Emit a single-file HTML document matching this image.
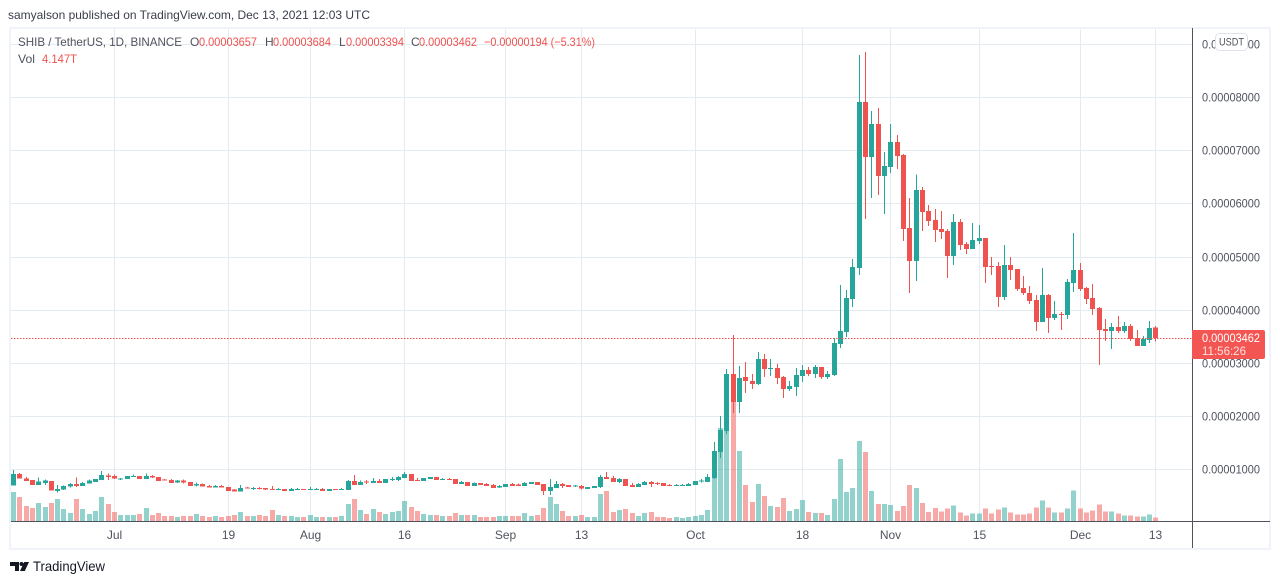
<!DOCTYPE html>
<html lang="en">
<head>
<meta charset="utf-8">
<title>SHIB / TetherUS chart</title>
<style>
html,body{margin:0;padding:0;background:#fff;width:1280px;height:584px;overflow:hidden}
svg{display:block}
text{font-family:"Liberation Sans",sans-serif}
</style>
</head>
<body>
<svg id="chart" xmlns="http://www.w3.org/2000/svg" width="1280" height="584" viewBox="0 0 1280 584">
  <rect x="0" y="0" width="1280" height="584" fill="#ffffff"/>
  <text x="8" y="19" font-size="12" fill="#3a3e4a" textLength="362" lengthAdjust="spacingAndGlyphs">samyalson published on TradingView.com, Dec 13, 2021 12:03 UTC</text>
  <rect x="10" y="28" width="1260" height="521" fill="#ffffff" stroke="#f0f3fa" stroke-width="2"/>
  <g id="grid"></g>
  <g id="volumes"></g>
  <g id="candles"></g>
  <g id="priceline"></g>
  <line x1="1192.5" y1="28" x2="1192.5" y2="548" stroke="#50535e" stroke-width="1"/>
  <line x1="11" y1="521.5" x2="1270" y2="521.5" stroke="#50535e" stroke-width="1"/>
  <g id="yticks"></g>
  <g id="xticks"></g>

  <g>
    <rect x="1215.5" y="33.5" width="32" height="17" rx="4" fill="#ffffff" stroke="#e0e3eb"/>
    <text x="1231.5" y="45.5" font-size="11" fill="#50535e" text-anchor="middle" textLength="25" lengthAdjust="spacingAndGlyphs">USDT</text>
  </g>

  <g>
    <path d="M1192 330H1263a2 2 0 0 1 2 2V357a2 2 0 0 1 -2 2H1192Z" fill="#f35652"/>
    <text x="1202" y="342" font-size="12" fill="#ffffff" textLength="58" lengthAdjust="spacingAndGlyphs">0.00003462</text>
    <text x="1202" y="355" font-size="12" fill="#fde0df" textLength="44" lengthAdjust="spacingAndGlyphs">11:56:26</text>
  </g>

  <g font-size="12">
    <text x="18" y="46" fill="#50535e" textLength="164" lengthAdjust="spacingAndGlyphs">SHIB / TetherUS, 1D, BINANCE</text>
    <text x="190" y="46" fill="#50535e">O</text>
    <text x="199" y="46" fill="#ef5350" textLength="58" lengthAdjust="spacingAndGlyphs">0.00003657</text>
    <text x="265" y="46" fill="#50535e">H</text>
    <text x="273" y="46" fill="#ef5350" textLength="58" lengthAdjust="spacingAndGlyphs">0.00003684</text>
    <text x="339" y="46" fill="#50535e">L</text>
    <text x="346" y="46" fill="#ef5350" textLength="58" lengthAdjust="spacingAndGlyphs">0.00003394</text>
    <text x="411" y="46" fill="#50535e">C</text>
    <text x="419" y="46" fill="#ef5350" textLength="58" lengthAdjust="spacingAndGlyphs">0.00003462</text>
    <text x="484" y="46" fill="#ef5350" textLength="111" lengthAdjust="spacingAndGlyphs">−0.00000194 (−5.31%)</text>
    <text x="18" y="63" fill="#50535e" textLength="17" lengthAdjust="spacingAndGlyphs">Vol</text>
    <text x="42" y="63" fill="#ef5350" textLength="35" lengthAdjust="spacingAndGlyphs">4.147T</text>
  </g>

  <g>
    <path d="M10 562H19V571H15V566H10ZM20 571L24.2 562H29L24.8 571Z" fill="#131722"/>
    <circle cx="21.5" cy="564" r="2" fill="#131722"/>
    <text x="33" y="571" font-size="14" fill="#131722" textLength="72" lengthAdjust="spacingAndGlyphs">TradingView</text>
  </g>
</svg>

<script>
// All prices in units of 0.00000001 USDT; volumes in trillions.
const firstDay = '2021-06-15';
const opens = [
684,904,822,791,697,734,772,584,609,665,
716,678,722,753,791,879,866,810,810,853,
866,810,866,847,797,791,741,778,753,684,
716,678,647,678,659,609,571,647,628,640,
640,622,609,622,584,609,622,603,603,622,
584,622,609,603,772,697,766,734,772,734,
791,791,828,904,791,772,810,847,791,810,
810,716,753,678,734,716,697,647,659,716,
703,678,716,753,716,584,640,716,697,665,
678,622,640,659,847,828,753,810,697,659,
697,753,734,734,697,678,678,678,697,759,
753,827,1316,1711,2783,2256,2726,2651,2595,3065,
2877,2896,2726,2501,2538,2745,2858,2783,2915,2726,
2764,3347,3573,4194,4774,7897,6862,7483,6505,6674,
7144,6900,5527,4906,6241,5846,5677,5510,5473,5002,
5642,5228,5134,5285,5341,4814,4814,4231,4833,4758,
4401,4306,4175,3761,4269,3836,3911,3893,4495,4739,
4401,4212,4024,3629,3592,3667,3592,3686,3460,3310,
3422,3657];
const highs = [
979,923,847,791,841,797,772,697,691,734,
841,753,797,810,960,916,891,828,866,891,
866,916,885,847,810,810,791,797,753,747,
728,697,697,697,659,622,697,659,659,659,
640,678,640,622,640,640,622,659,640,640,
622,622,640,791,885,778,791,828,810,810,
847,866,941,904,828,828,847,847,828,828,
810,772,753,747,734,734,716,697,716,734,
722,753,753,753,716,810,772,734,697,697,
697,659,678,885,941,866,828,810,734,734,
772,772,753,734,716,716,716,734,772,810,
904,1504,1993,2877,3516,2933,3009,2783,3197,3159,
3065,2971,2745,2651,2896,2952,2915,2952,2915,2839,
3460,4457,4363,4946,8781,8837,7727,7784,6956,7483,
7276,6919,6091,6536,6298,5959,5884,5849,5510,5792,
5698,5266,5623,5586,5341,4984,4890,5209,4984,4758,
4626,4438,4269,4777,4288,4156,3949,4570,5435,4871,
4419,4476,4043,3817,3742,3874,3761,3723,3611,3498,
3780,3684];
const lows = [
684,816,772,697,697,697,590,553,603,647,
659,678,722,753,791,791,810,791,810,847,
810,810,828,772,778,734,734,722,678,665,
665,647,647,647,584,571,571,628,603,615,
603,603,603,584,584,603,603,603,603,584,
584,603,603,603,697,697,716,734,734,734,
772,772,828,772,772,772,810,791,791,791,
716,716,678,678,697,678,640,640,659,678,
678,678,716,697,509,509,640,640,659,659,
609,622,640,640,810,753,734,678,659,659,
697,659,697,678,678,678,678,678,697,741,
753,808,1203,1654,2049,2049,2425,2501,2576,2726,
2745,2595,2331,2463,2369,2632,2745,2708,2689,2689,
2745,3272,3479,4044,4643,5696,6091,6147,5790,6561,
6636,5282,4304,4530,5470,5564,5263,5322,4589,4833,
5115,5040,5134,5228,4495,4645,4043,4175,4551,4344,
4269,4100,3592,3761,3554,3799,3611,3817,4325,4344,
4100,3893,2952,3404,3253,3554,3554,3404,3310,3310,
3366,3394];
const closes = [
904,816,772,697,759,778,590,622,678,716,
678,734,778,810,885,847,816,822,866,866,
810,866,835,772,785,734,778,741,678,716,
665,647,678,647,584,571,640,628,640,622,
609,603,622,584,622,622,603,622,622,584,
622,603,622,772,697,753,747,772,734,810,
810,847,904,772,772,828,847,791,810,791,
716,753,678,734,697,678,640,678,716,678,
678,734,753,697,584,659,716,678,659,684,
628,659,678,847,810,753,810,678,659,716,
753,716,716,678,678,697,697,716,772,778,
847,1335,1729,2783,2256,2708,2651,2595,3065,2877,
2896,2708,2501,2557,2764,2858,2783,2915,2726,2783,
3366,3592,4212,4796,7897,6862,7483,6505,6693,7144,
6881,5508,4906,6241,5828,5658,5489,5454,5002,5642,
5209,5134,5303,5341,4796,4796,4231,4833,4739,4382,
4306,4156,3761,4269,3836,3911,3893,4513,4739,4382,
4194,4006,3611,3592,3667,3592,3686,3441,3310,3441,
3648,3462];
const volumes = [
36.3,30,18.8,16.3,22.5,17.5,22.5,27.5,15,10,
27.5,15,8.75,12.5,30,21.3,11.3,7.5,7.5,7.5,
8.75,16.3,7.5,10,6.25,6.25,5,6.25,6.25,8.75,
6.25,5,6.25,5,6.25,7.5,11.3,6.25,6.25,7.5,
6.25,13.75,7.5,6.25,6.25,5,5,7.5,5,5,
5,5,6.25,21.3,27.5,13.75,8.75,15,11.3,8.75,
11.3,12.5,25,17.5,12.5,8.75,7.5,7.5,6.25,6.25,
10,7.5,7.5,7.5,5,5,5,6.25,6.25,6.25,
6.25,10,6.25,7.5,16.3,30,21.3,12.5,6.25,6.25,
7.5,5,5,33.8,37.5,11.3,13.75,15,10,6.25,
10,11.3,5,5,3.75,5,3.75,5,6.25,7.5,
13.75,55,116,120,149,87.5,45,23.8,46.3,31.3,
18.8,17.5,28.8,12.5,15,26.3,11.3,10,10,7.5,
27.5,77.5,36.3,41.3,100,86.3,37.5,21.3,21.3,20,
12.5,18.8,45,41.3,22.5,11.3,16.3,11.7,15.4,19.2,
10.4,6.7,9.2,9.2,15.4,9.2,14.2,16.7,10.4,7.9,
7.9,9.2,16.7,25.4,16.7,10.4,10.4,15.4,37.9,15.4,
10.4,12.9,20.4,11.7,11.7,9.2,6.7,6.7,5.4,5.4,
7.9,4.147];
const priceTicks = [9000,8000,7000,6000,5000,4000,3000,2000,1000];
const priceTickLabels = ['0.00009000','0.00008000','0.00007000','0.00006000','0.00005000','0.00004000','0.00003000','0.00002000','0.00001000'];
const timeTickDates = ['2021-07-01','2021-07-19','2021-08-01','2021-08-16','2021-09-01','2021-09-13','2021-10-01','2021-10-18','2021-11-01','2021-11-15','2021-12-01','2021-12-13'];
const timeTickLabels = ['Jul','19','Aug','16','Sep','13','Oct','18','Nov','15','Dec','13'];
const lastPrice = 3462;

const NS = 'http://www.w3.org/2000/svg';
const X0 = 13.5, X_STEP = 6.312;
const Y_ZERO = 522.1, PRICE_PER_PX = 18.8;
const VOL_ZERO = 521, VOL_PER_PX = 1.25;
const UP = '#26a69a', DOWN = '#ef5350';

function xScale(i){ return X0 + X_STEP * i; }
function yScale(p){ return Y_ZERO - p / PRICE_PER_PX; }
function yLine(p){ return Math.round(yScale(p) + 0.4) + 0.5; }
function volHeight(v){ return v / VOL_PER_PX; }
function dayIndex(d){ return Math.round((Date.parse(d) - Date.parse(firstDay)) / 86400000); }

function mk(tag, attrs, parent){
  const el = document.createElementNS(NS, tag);
  for (const k in attrs) el.setAttribute(k, attrs[k]);
  parent.appendChild(el);
  return el;
}

const gridG = document.getElementById('grid');
const volG = document.getElementById('volumes');
const candleG = document.getElementById('candles');
const yG = document.getElementById('yticks');
const xG = document.getElementById('xticks');
const priceG = document.getElementById('priceline');

priceTicks.forEach(function(p, k){
  const y = yLine(p);
  const line = mk('line', {x1: 11, x2: 1192, y1: y, y2: y, stroke: '#e4ebf1', 'stroke-width': 1}, gridG);
  
  
  const t = mk('text', {x: 1202, y: y + 4, 'font-size': 12, fill: '#50535e', textLength: 58, lengthAdjust: 'spacingAndGlyphs'}, yG);
  t.textContent = priceTickLabels[k];
  
  
});

timeTickDates.forEach(function(d, k){
  const x = Math.floor(xScale(dayIndex(d))) + 0.5;
  const line = mk('line', {x1: x, x2: x, y1: 29, y2: 521, stroke: '#e4ebf1', 'stroke-width': 1}, gridG);
  
  
  const t = mk('text', {x: x, y: 539, 'font-size': 12, fill: '#50535e', 'text-anchor': 'middle'}, xG);
  t.textContent = timeTickLabels[k];
  
  
});

closes.forEach(function(c, i){
  const o = opens[i], up = c >= o, color = up ? UP : DOWN;
  const px = Math.floor(xScale(i));
  const h = volHeight(volumes[i]);
  const bar = mk('rect', {x: px - 2, y: VOL_ZERO - h, width: 5, height: h, fill: color, 'fill-opacity': 0.5, 'shape-rendering': 'crispEdges'}, volG);
  
  

  const wick = mk('rect', {x: px, y: yScale(highs[i]), width: 1, height: Math.max(1, yScale(lows[i]) - yScale(highs[i])), fill: color, 'shape-rendering': 'crispEdges'}, candleG);
  
  

  const top = yScale(Math.max(o, c));
  const body = mk('rect', {x: px - 2, y: top, width: 5, height: Math.max(1, yScale(Math.min(o, c)) - top), fill: color, 'shape-rendering': 'crispEdges'}, candleG);
  
  
});

const ly = Math.round(yScale(lastPrice)) + 0.5;
const pl = mk('line', {x1: 11, x2: 1192, y1: ly, y2: ly, stroke: '#ef5350', 'stroke-width': 1, 'stroke-dasharray': '1.5 1.5'}, priceG);


</script>
</body>
</html>
